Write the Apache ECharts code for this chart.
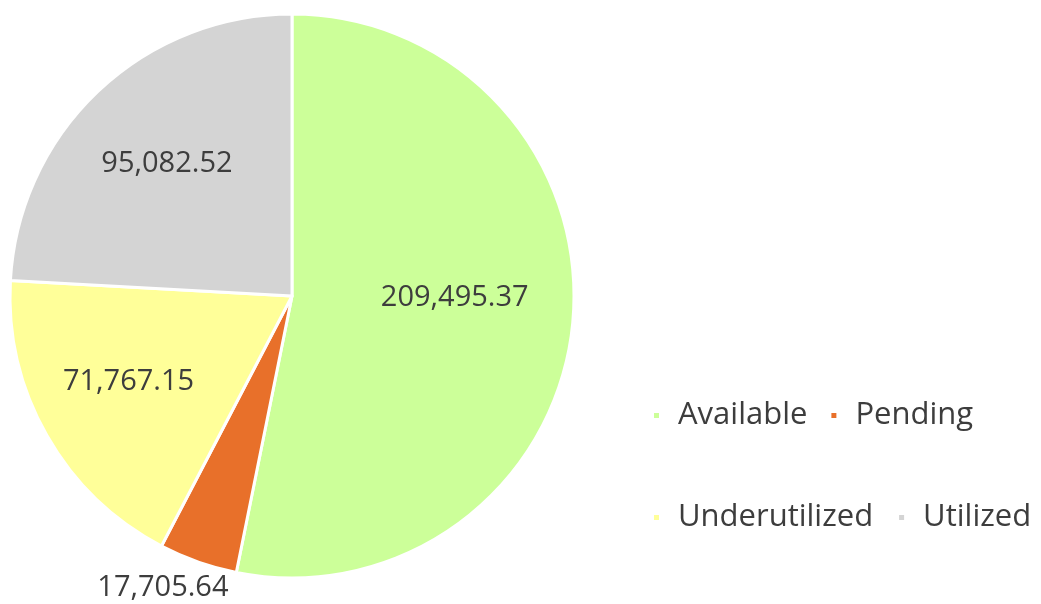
<!DOCTYPE html>
<html>
<head>
<meta charset="utf-8">
<script src="https://cdn.jsdelivr.net/npm/echarts@6/dist/echarts.min.js"></script>
<style>
html,body{margin:0;padding:0;background:#fff;}
#main{width:1041px;height:604px;}
</style>
</head>
<body>
<div id="main"></div>
<script>
// data
var categories = ['Available', 'Pending', 'Underutilized', 'Utilized'];
var values = [209495.37, 17705.64, 71767.15, 95082.52];
var colors = ['#ccff99', '#e8702a', '#ffff99', '#d4d4d4'];

// label placement: fraction of radius along mid angle, plus small nudge
var labelDist = [0.58, 1.128, 0.655, 0.645];
var labelNudge = [[0, -14], [-23, -8], [-3, -6], [0, 0]];

var cx = 292, cy = 296, R = 282;
var total = values.reduce(function(a, b){ return a + b; }, 0);

function midAngle(i){
	var before = 0;
	for (var k = 0; k < i; k++) before += values[k];
	return (before + values[i] / 2) / total * Math.PI * 2;
}

function fmt(v){
	return v.toLocaleString('en-US', {minimumFractionDigits: 2, maximumFractionDigits: 2});
}

var chart = echarts.init(document.getElementById('main'));

var font = '"Open Sans", Lato, sans-serif';
var legendText = {fontFamily: font, fontSize: 31, color: '#3d3d3d', padding: [0, 0, 0, 13]};

var option = {
	backgroundColor: '#fff',
	animation: false,
	legend: [
		{
			data: categories.slice(0, 2),
			left: 652, top: 400, padding: 0,
			icon: 'rect', itemWidth: 7, itemHeight: 7, itemGap: 22,
			textStyle: legendText
		},
		{
			data: categories.slice(2, 4),
			left: 652, top: 502, padding: 0,
			icon: 'rect', itemWidth: 7, itemHeight: 7, itemGap: 24,
			textStyle: legendText
		}
	],
	series: [{
		type: 'pie',
		center: [cx, cy],
		radius: [0, R],
		startAngle: 90,
		clockwise: true,
		avoidLabelOverlap: false,
		itemStyle: {borderColor: '#fff', borderWidth: 3},
		label: {
			show: true,
			position: 'inside',
			fontFamily: font,
			fontSize: 29,
			color: '#3d3d3d',
			formatter: function(p){ return fmt(p.value); }
		},
		labelLine: {show: false},
		labelLayout: function(p){
			var i = p.dataIndex;
			var a = midAngle(i);
			var d = R * labelDist[i];
			return {
				x: cx + Math.sin(a) * d + labelNudge[i][0],
				y: cy - Math.cos(a) * d + labelNudge[i][1],
				align: 'center',
				verticalAlign: 'middle'
			};
		},
		emphasis: {disabled: true},
		data: categories.map(function(c, i){
			return {name: c, value: values[i], itemStyle: {color: colors[i]}};
		})
	}]
};

chart.setOption(option);
</script>
</body>
</html>
